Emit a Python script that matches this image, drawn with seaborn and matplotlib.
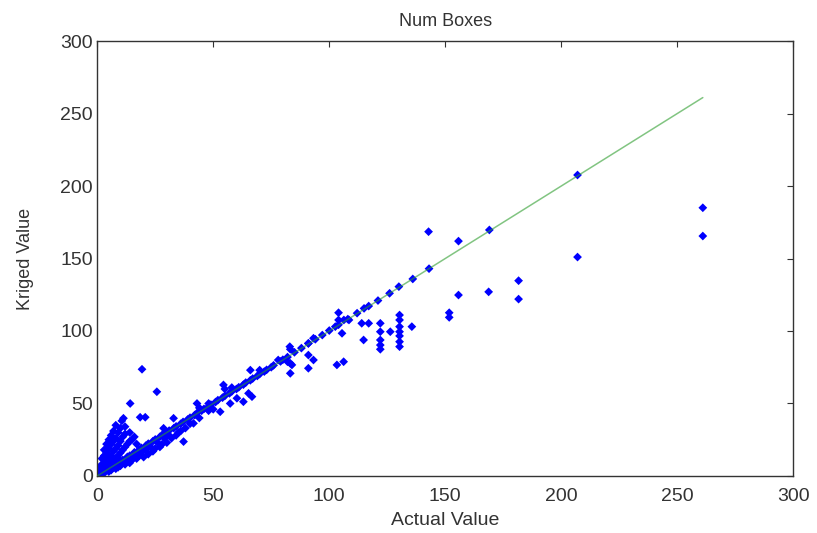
import matplotlib
matplotlib.use("Agg")
import matplotlib.pyplot as plt
import seaborn as sns
import pandas as pd

# ---- data ----
# points lying close to the identity line
on_x = [0, 0.5, 1, 1.5, 2, 3, 4, 5, 6, 7, 8, 9, 10, 11, 13, 14, 16, 18, 19, 21, 22, 24, 25, 27, 28, 30,
        31, 33, 34, 36, 37, 39, 40, 42, 43, 45, 46, 48, 49, 51, 52, 54, 55, 57, 58, 60, 61, 63, 64,
        66, 67, 69, 70, 72, 73, 75, 76, 79, 80, 82, 85, 88, 91, 94, 97, 100, 104, 108, 112, 115,
        117, 121, 126, 130, 136, 143, 169, 207]
on_y = [0, 0.6, 1.2, 1.4, 2.2, 3, 4.2, 5, 6.3, 7, 8.4, 9, 10.3, 11, 13.2, 14, 16.3, 18, 19.4, 21, 22.3,
        24, 25.2, 27, 28.4, 30, 31.3, 33, 34.2, 36, 37.3, 39, 40.2, 42, 43.4, 45, 46.3, 48, 49.2, 51,
        52.3, 54, 55.2, 57, 58.3, 60, 61.2, 63, 64.4, 66, 67.2, 69, 70.3, 72, 73.2, 75, 76.3, 79,
        80.2, 82, 85.3, 88.2, 91.4, 94.3, 97.2, 100.3, 104.3, 108.2, 112.3, 115.6, 117.2, 121,
        126, 130.6, 135.9, 143, 169.7, 207.6]

# points above the line (over-estimates)
up_x = [1, 1, 2, 2, 2, 3, 3, 3, 3, 4, 4, 4, 4, 5, 5, 5, 5, 6, 6, 6, 6, 7, 7, 7, 7, 8, 8, 8, 8,
        9, 9, 9, 10, 10, 10, 10.6, 11, 11, 11.3, 12, 12, 12, 13, 14, 14, 14.2, 15, 16, 17, 18.5,
        20.7, 19.3, 25.7, 28.6, 32.9, 41.5, 43, 44, 48, 54.4, 55, 58, 66, 70, 78, 83, 83.2, 91,
        93.2, 104, 104, 106.3, 108.5, 142.8, 155.7]
up_y = [3, 6, 4, 8, 12, 5, 9, 14, 18, 6, 10, 16, 22, 8, 12, 19, 25, 9, 14, 22, 28, 10, 17, 24, 31,
        12, 19, 26, 35, 14, 21, 30, 16, 24, 33, 38, 18, 27, 39.8, 20, 29, 34, 22, 24, 30, 50, 25,
        27, 22, 40.5, 40.5, 73.6, 58.1, 32.9, 39.8, 36.3, 50, 47, 50, 62.8, 60, 61, 73, 73, 80,
        89.2, 87.4, 91.5, 95, 112.6, 107.6, 107.6, 107.6, 168.5, 162]

# points below the line (under-estimates)
lo_x = [3, 5, 6, 7, 8, 9, 10, 11, 12, 13, 14, 15, 16, 17, 18, 19, 20, 21, 22, 23, 24, 25, 26, 27,
        28, 29, 30, 31, 32, 34, 35, 36, 37.2, 38, 40, 44, 48, 50, 53, 57.3, 60.2, 63, 65.2, 66.7,
        82, 83.2, 83.2, 83.9, 91, 91, 93.2, 102.6, 103.3, 105.5, 106.2, 114, 114.8, 117, 122, 122,
        122, 122, 122, 126.3, 130.3, 130.3, 130.3, 130.3, 130.3, 130.3, 130.3, 135.6, 151.7,
        151.7, 155.7, 168.7, 181.6, 181.6, 207, 261, 261]
lo_y = [2, 3, 4, 6, 5, 6, 7, 9, 8, 11, 9, 11, 13, 12, 14, 16, 13, 18, 15, 20, 17, 19, 23, 20, 22,
        26, 23, 28, 26, 28, 30, 31, 23.7, 33, 36, 40, 45, 46, 44.3, 50, 53.6, 51.2, 57, 54.7, 78.8,
        77.7, 70.8, 76.6, 83.4, 74.3, 80, 103, 76.6, 98.4, 78.8, 105.3, 93.8, 105.3, 105.3, 99.5,
        93.8, 90.3, 87.4, 99.5, 111, 107.6, 103, 99.5, 96.6, 92.6, 89.2, 103, 112.6, 109.4, 124.8,
        127, 134.7, 122, 151, 185, 165.5]

# identity reference line
line_x = [0, 261]
line_y = [0, 261]

x_ticks = [0, 50, 100, 150, 200, 250, 300]
y_ticks = [0, 50, 100, 150, 200, 250, 300]

df = pd.DataFrame({
    "actual": on_x + up_x + lo_x,
    "kriged": on_y + up_y + lo_y,
})

sns.set_theme(style="white")
plt.rcParams["font.family"] = ["Liberation Sans", "DejaVu Sans"]

fig = plt.figure(figsize=(8.17, 5.33), dpi=100)
ax = fig.add_axes([0.119, 0.107, 0.852, 0.816])

sns.scatterplot(data=df, x="actual", y="kriged", ax=ax, marker="D", s=20,
                color="#0000ff", edgecolor="none", linewidth=0, zorder=2)
sns.lineplot(x=line_x, y=line_y, ax=ax, color="#2e9e2e", linewidth=1.1, alpha=0.6, zorder=3)

ax.set_xlim(0, 300)
ax.set_ylim(0, 300)
ax.set_xticks(x_ticks)
ax.set_yticks(y_ticks)
ax.tick_params(direction="in", length=4, width=0.8, colors="#333333",
               top=True, right=True, labelsize=14, labelcolor="#333333", pad=3)
ax.tick_params(axis="x", pad=9)
for sp in ax.spines.values():
    sp.set_visible(True)
    sp.set_color("#333333")
    sp.set_linewidth(1.0)

ax.set_title("Num Boxes", fontsize=13, color="#333333", pad=11)
ax.set_xlabel("Actual Value", fontsize=14, color="#333333", labelpad=5)
ax.set_ylabel("Kriged Value", fontsize=13, color="#333333", labelpad=19)

fig.savefig("out.png", dpi=100)
